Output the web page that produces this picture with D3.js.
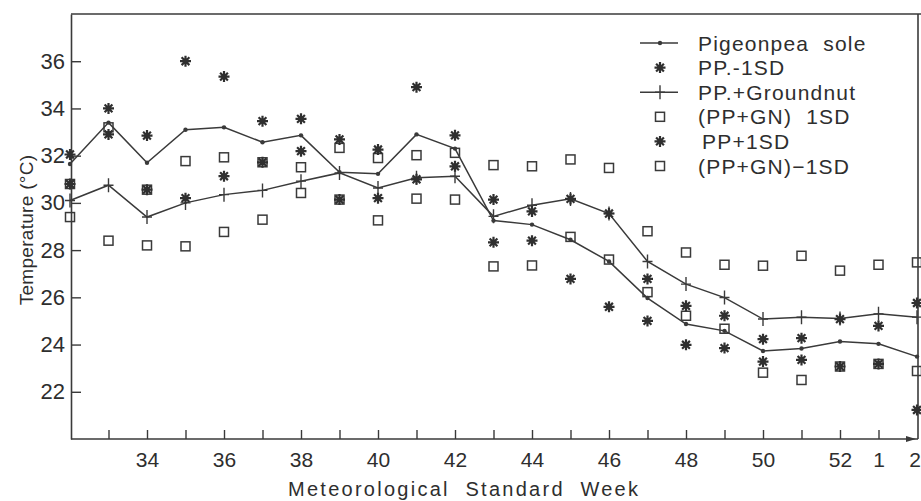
<!DOCTYPE html>
<html>
<head>
<meta charset="utf-8">
<script src="https://cdn.jsdelivr.net/npm/d3@7"></script>
<style>
  html, body { margin: 0; padding: 0; background: #ffffff; }
  svg { display: block; }
  text { font-family: "Liberation Sans", Arial, sans-serif; fill: #2e2e2e; white-space: pre; }
</style>
</head>
<body>
<svg id="chart" width="921" height="501"></svg>
<script>
// ---- data ----
const weeks = ["32","33","34","35","36","37","38","39","40","41","42","43","44","45","46","47","48","49","50","51","52","1","2"];
const ppSole     = [31.65,33.4,31.7,33.1,33.2,32.57,32.86,31.3,31.23,32.9,32.3,29.25,29.08,28.44,27.52,25.97,24.87,24.58,23.73,23.83,24.13,24.03,23.49];
const ppGn       = [30.1,30.75,29.4,30.0,30.35,30.53,30.92,31.27,30.63,31.06,31.13,29.43,29.9,30.17,29.55,27.52,26.56,25.99,25.08,25.16,25.1,25.3,25.16];
const ppMinus1SD = [30.8,32.9,30.56,30.2,31.13,31.72,32.19,30.14,30.2,31.0,31.55,28.33,28.4,26.78,25.6,25.0,23.99,23.85,23.28,23.35,23.07,23.18,21.23];
const ppPlus1SD  = [32.05,34.0,32.85,36.0,35.35,33.46,33.56,32.69,32.26,34.9,32.86,30.14,29.64,30.17,29.55,26.78,25.64,25.22,24.23,24.27,25.08,24.79,25.76];
const gnPlus1SD  = [30.8,33.2,30.56,31.77,31.93,31.72,31.51,32.33,31.9,32.02,32.12,31.6,31.55,31.84,31.48,28.8,27.9,27.38,27.34,27.76,27.13,27.38,27.48];
const gnMinus1SD = [29.4,28.4,28.2,28.16,28.77,29.29,30.42,30.14,29.26,30.18,30.14,27.31,27.35,28.56,27.6,26.22,25.22,24.67,22.81,22.5,23.07,23.18,22.88];
const yTicks = [22,24,26,28,30,32,34,36];
const xLabelWeeks = ["34","36","38","40","42","44","46","48","50","52","1"];
const lastWeekLabel = "2";
const legendLabels = ["Pigeonpea  sole","PP.-1SD","PP.+Groundnut","(PP+GN)  1SD","PP+1SD","(PP+GN)\u22121SD"];
const legendKinds  = ["dotline","asterisk","plusline","square","asterisk","square"];
const xTitle = "Meteorological  Standard  Week";
const yTitle = "Temperature (\u00B0C)";

// ---- layout ----
const ink = "#3a3a3a";
const svg = d3.select("#chart");
const plotL = 71, plotR = 918, plotT = 14, plotB = 439;

const x = d3.scalePoint().domain(weeks).range([70, 917]);
const y = d3.scaleLinear().domain([20, 38]).range([plotB, plotT]);

// frame
svg.append("line").attr("x1", plotL).attr("x2", 921).attr("y1", plotT).attr("y2", plotT)
  .attr("stroke", ink).attr("stroke-width", 1.6);
svg.append("line").attr("x1", plotR).attr("x2", plotR).attr("y1", plotT).attr("y2", plotB)
  .attr("stroke", ink).attr("stroke-width", 1.6);

// y axis
const yAxis = d3.axisLeft(y).tickValues(yTicks).tickSize(-10).tickSizeOuter(0).tickPadding(6);
const gy = svg.append("g").attr("transform", `translate(${plotL},0)`).call(yAxis);
gy.select(".domain").attr("stroke", ink).attr("stroke-width", 1.6);
gy.selectAll(".tick line").attr("stroke", ink).attr("stroke-width", 1.4);
gy.selectAll(".tick text").style("font-size", "22px").style("font-family", "Liberation Sans, Arial, sans-serif").attr("fill", "#2e2e2e");

// x axis
const xAxis = d3.axisBottom(x).tickValues(weeks.slice(1, 22)).tickSize(-9).tickSizeOuter(0).tickPadding(13)
  .tickFormat(d => xLabelWeeks.includes(d) ? d : "");
const gx = svg.append("g").attr("transform", `translate(0,${plotB})`).call(xAxis);
gx.select(".domain").remove();
gx.selectAll(".tick line").attr("stroke", ink).attr("stroke-width", 1.4);
gx.selectAll(".tick text").style("font-size", "21px").style("font-family", "Liberation Sans, Arial, sans-serif").attr("fill", "#2e2e2e");
// label for the last week, at the frame (kept inside the picture)
svg.append("text").attr("x", 921).attr("y", plotB + 13).attr("dy", "0.71em")
  .attr("text-anchor", "end").style("font-size", "21px").text(lastWeekLabel);
svg.append("line").attr("x1", plotL).attr("x2", plotR).attr("y1", plotB).attr("y2", plotB)
  .attr("stroke", ink).attr("stroke-width", 1.6);
svg.append("path").attr("d", `M${plotR - 12},${plotB - 3}L${plotR - 2},${plotB}L${plotR - 12},${plotB + 3}Z`)
  .attr("fill", ink);

// axis titles
svg.append("text").attr("x", 288).attr("y", 496)
  .attr("textLength", 350).attr("lengthAdjust", "spacing")
  .style("font-size", "20px").text(xTitle);
svg.append("text").attr("transform", "translate(33,230) rotate(-90)")
  .attr("text-anchor", "middle").style("font-size", "19px").style("letter-spacing", "0.3px").text(yTitle);

// ---- marks ----
const idx = weeks.map((w, i) => i);
const line = arr => d3.line().x(i => x(weeks[i])).y(i => y(arr[i]))(idx);

svg.append("path").attr("d", line(ppSole)).attr("fill", "none").attr("stroke", ink).attr("stroke-width", 1.5);
svg.append("path").attr("d", line(ppGn)).attr("fill", "none").attr("stroke", ink).attr("stroke-width", 1.5);

const asteriskPath = "M-5.5,0L5.5,0M0,-5.5L0,5.5M-3.9,-3.9L3.9,3.9M-3.9,3.9L3.9,-3.9";
const plusPath = "M0,-7L0,7M-5,0L5,0";

function drawAsterisks(arr) {
  svg.append("g").selectAll("path").data(idx).join("path")
    .attr("transform", i => `translate(${x(weeks[i])},${y(arr[i])})`)
    .attr("d", asteriskPath).attr("stroke", "#2f2f2f").attr("stroke-width", 2.2).attr("fill", "none");
}
function drawSquares(arr) {
  svg.append("g").selectAll("rect").data(idx).join("rect")
    .attr("x", i => x(weeks[i]) - 4.5).attr("y", i => y(arr[i]) - 4.5)
    .attr("width", 9).attr("height", 9)
    .attr("fill", "none").attr("stroke", ink).attr("stroke-width", 1.5);
}
// dots on the pigeonpea sole line
svg.append("g").selectAll("circle").data(idx).join("circle")
  .attr("cx", i => x(weeks[i])).attr("cy", i => y(ppSole[i])).attr("r", 2.2).attr("fill", ink);
// plus markers on PP + groundnut line
svg.append("g").selectAll("path").data(idx).join("path")
  .attr("transform", i => `translate(${x(weeks[i])},${y(ppGn[i])})`)
  .attr("d", plusPath).attr("stroke", ink).attr("stroke-width", 1.4);

drawSquares(gnPlus1SD);
drawSquares(gnMinus1SD);
drawAsterisks(ppPlus1SD);
drawAsterisks(ppMinus1SD);

// ---- legend ----
const lg = svg.append("g");
legendLabels.forEach((lab, k) => {
  const cy = 43 + k * 24.6;
  const kind = legendKinds[k];
  const mx = 660;
  if (kind === "dotline" || kind === "plusline") {
    lg.append("line").attr("x1", 640).attr("x2", 678).attr("y1", cy).attr("y2", cy)
      .attr("stroke", ink).attr("stroke-width", 1.5);
    if (kind === "dotline") lg.append("circle").attr("cx", mx).attr("cy", cy).attr("r", 2.2).attr("fill", ink);
    else lg.append("path").attr("transform", `translate(${mx},${cy})`).attr("d", plusPath)
      .attr("stroke", ink).attr("stroke-width", 1.4);
  } else if (kind === "asterisk") {
    lg.append("path").attr("transform", `translate(${mx},${cy})`).attr("d", asteriskPath)
      .attr("stroke", "#2f2f2f").attr("stroke-width", 2.2).attr("fill", "none");
  } else {
    lg.append("rect").attr("x", mx - 4.5).attr("y", cy - 4.5).attr("width", 9).attr("height", 9)
      .attr("fill", "none").attr("stroke", ink).attr("stroke-width", 1.5);
  }
  lg.append("text").attr("x", k === 4 ? 702 : 698).attr("y", cy).attr("dy", "0.36em")
    .style("font-size", "21px").style("letter-spacing", "1.2px").text(lab);
});
</script>
</body>
</html>
